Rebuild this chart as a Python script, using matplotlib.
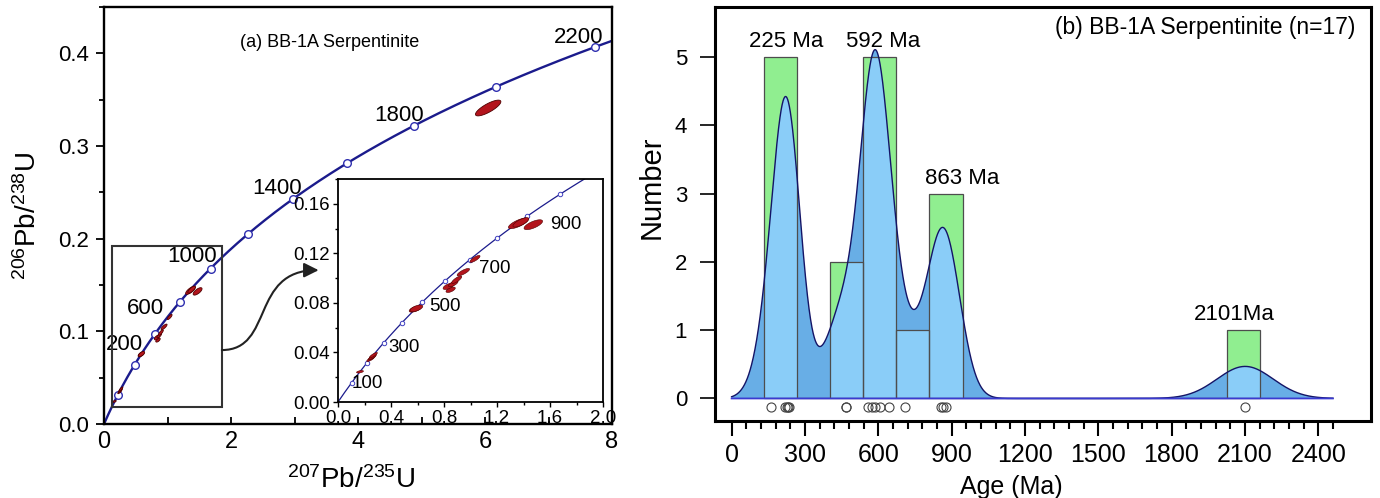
import numpy as np
import matplotlib
matplotlib.use("Agg")
import matplotlib.pyplot as plt
from matplotlib.patches import Polygon, Rectangle, FancyArrowPatch
from matplotlib.path import Path
from matplotlib.ticker import MultipleLocator, FixedLocator, FormatStrFormatter

plt.rcParams['font.family'] = ['Liberation Sans', 'DejaVu Sans']
plt.rcParams['mathtext.default'] = 'regular'

# ---- concordia (a) ----
L238 = 1.55125e-4   # decay constants, 1/Ma
L235 = 9.8485e-4
main_marks = [200, 400, 600, 800, 1000, 1200, 1400, 1600, 1800, 2000, 2200]
main_labels = [200, 600, 1000, 1400, 1800, 2200]
inset_marks = [100, 200, 300, 400, 500, 600, 700, 800, 900, 1000]
inset_labels = [100, 300, 500, 700, 900]

# zircon analyses: 207Pb/235U, 206Pb/238U, error half-extents and correlation
r75 = [0.166, 0.245, 0.255, 0.262, 0.267, 0.582, 0.592, 0.850, 0.833, 0.870,
       0.896, 0.946, 1.034, 1.361, 1.474, 1.380, 6.05]
r68 = [0.0244, 0.0345, 0.0357, 0.0365, 0.0378, 0.0750, 0.0756, 0.0906, 0.0933, 0.0955,
       0.0987, 0.1048, 0.1155, 0.1442, 0.1431, 0.1450, 0.341]
err75 = [0.026, 0.028, 0.028, 0.028, 0.030, 0.045, 0.048, 0.035, 0.040, 0.036,
         0.038, 0.047, 0.038, 0.075, 0.070, 0.060, 0.20]
err68 = [0.0010, 0.0018, 0.0018, 0.0020, 0.0022, 0.0025, 0.0027, 0.0022, 0.0025, 0.0025,
         0.0030, 0.0030, 0.0028, 0.0043, 0.0040, 0.0038, 0.0085]
rho = [0.5, 0.8, 0.8, 0.8, 0.85, 0.6, 0.6, 0.6, 0.6, 0.7,
       0.8, 0.8, 0.8, 0.75, 0.7, 0.75, 0.8]

# ---- age distribution (b) ----
ages = [161, 218, 226, 231, 236, 466, 470, 559, 573, 586, 607, 642, 708, 858, 866, 877, 2101]
age_sig = [60, 55, 55, 55, 55, 78, 78, 52, 52, 52, 52, 52, 72, 66, 66, 66, 115]
bin_start = 133.5
bin_width = 135.2
peak_ages = [225, 592, 863, 2101]
peak_text = ['225 Ma', '592 Ma', '863 Ma', '2101Ma']
peak_counts = [5, 5, 3, 1]


def ratios(t):
    t = np.asarray(t, dtype=float)
    return np.expm1(L235 * t), np.expm1(L238 * t)


def draw_ellipses(ax, lw):
    t = np.linspace(0, 2 * np.pi, 120)
    for cx, cy, sx, sy, r in zip(r75, r68, err75, err68, rho):
        xs = cx + sx * np.cos(t)
        ys = cy + sy * (r * np.cos(t) + np.sqrt(1 - r**2) * np.sin(t))
        ax.fill(xs, ys, fc='#b3141c', ec='#500000', lw=lw, zorder=4)


fig = plt.figure(figsize=(13.8, 4.98), dpi=100)
ax1 = fig.add_axes([104/1380, 74/498, 508/1380, 417/498])
ax_in = fig.add_axes([338/1380, 96/498, 265/1380, 223/498])
ax2 = fig.add_axes([715/1380, 77/498, 656/1380, 414/498])

curve_c = '#1b1b8c'

# main concordia
tc = np.linspace(0, 2300, 800)
cx, cy = ratios(tc)
ax1.plot(cx, cy, color=curve_c, lw=1.7, zorder=2)
mx, my = ratios(main_marks)
ax1.plot(mx, my, 'o', ms=5.5, mfc='white', mec='#3030b0', mew=1.0, zorder=3)
draw_ellipses(ax1, 0.6)
main_off = {200: (5, 36), 600: (-7, 18), 1000: (-13, 9), 1400: (-11, 8),
            1800: (-11, 7.5), 2200: (-12, 7)}
for a in main_labels:
    px, py = ratios(a)
    ax1.annotate(str(a), (px, py), xytext=main_off[a], textcoords='offset points',
                 ha='center', va='center', fontsize=16)
ax1.text(3.55, 0.412, '(a) BB-1A Serpentinite', ha='center', va='center', fontsize=13)

ax1.add_patch(Rectangle((0.13, 0.018), 1.726, 0.1743, fill=False, ec='#333333', lw=1.5, zorder=5))
arrow_path = Path([(1.856, 0.0798), (2.68, 0.0798), (2.30, 0.166), (3.38, 0.166)],
                  [Path.MOVETO, Path.CURVE4, Path.CURVE4, Path.CURVE4])
ax1.add_patch(FancyArrowPatch(path=arrow_path, arrowstyle='-|>', mutation_scale=22,
                              color='#222222', lw=1.5, zorder=5))

ax1.set_xlim(0, 8)
ax1.set_ylim(0, 0.45)
ax1.xaxis.set_major_locator(MultipleLocator(2))
ax1.xaxis.set_minor_locator(MultipleLocator(1))
ax1.yaxis.set_major_locator(MultipleLocator(0.1))
ax1.yaxis.set_minor_locator(MultipleLocator(0.05))
ax1.yaxis.set_major_formatter(FormatStrFormatter('%.1f'))
ax1.tick_params(axis='x', which='both', direction='in', length=5, width=1.3, labelsize=17, pad=5)
ax1.tick_params(axis='y', which='major', direction='out', length=6, width=1.3, labelsize=16, pad=5)
ax1.tick_params(axis='y', which='minor', direction='out', length=3.5, width=1.3)
for s in ax1.spines.values():
    s.set_linewidth(1.7)
ax1.set_xlabel(r'$^{207}$Pb/$^{235}$U', fontsize=20)
ax1.set_ylabel(r'$^{206}$Pb/$^{238}$U', fontsize=20)
ax1.xaxis.set_label_coords(0.486, -0.1)
ax1.yaxis.set_label_coords(-0.122, 0.5)

# inset
ax_in.patch.set_facecolor('white')
ax_in.plot(cx, cy, color=curve_c, lw=0.9, zorder=2)
ix, iy = ratios(inset_marks)
ax_in.plot(ix, iy, 'o', ms=3.2, mfc='white', mec='#4040c0', mew=0.7, zorder=3)
draw_ellipses(ax_in, 0.4)
inset_off = {100: (11, -0.5), 300: (15, -3), 500: (16, -3.5), 700: (18, -6.5), 900: (28, -5.5)}
for a in inset_labels:
    px, py = ratios(a)
    ax_in.annotate(str(a), (px, py), xytext=inset_off[a], textcoords='offset points',
                   ha='center', va='center', fontsize=13.5)
ax_in.set_xlim(0, 2.0)
ax_in.set_ylim(0, 0.18)
ax_in.xaxis.set_major_locator(MultipleLocator(0.4))
ax_in.xaxis.set_minor_locator(MultipleLocator(0.2))
ax_in.yaxis.set_major_locator(MultipleLocator(0.04))
ax_in.yaxis.set_minor_locator(MultipleLocator(0.02))
ax_in.xaxis.set_major_formatter(FormatStrFormatter('%.1f'))
ax_in.yaxis.set_major_formatter(FormatStrFormatter('%.2f'))
ax_in.tick_params(which='major', direction='out', length=3.5, width=1, labelsize=13.5, pad=2)
ax_in.tick_params(which='minor', direction='out', length=2, width=1)
for s in ax_in.spines.values():
    s.set_linewidth(1.3)

# histogram + probability density
edges = bin_start + bin_width * np.arange(16)
xg = np.linspace(0, 2460, 2500)
kde = np.zeros_like(xg)
for a, s in zip(ages, age_sig):
    kde += bin_width * np.exp(-0.5 * ((xg - a) / s) ** 2) / (s * np.sqrt(2 * np.pi))

ax2.hist(ages, bins=edges, color='#90ee90', zorder=1)
kde_poly = Polygon(np.column_stack([np.r_[xg[0], xg, xg[-1]], np.r_[0, kde, 0]]),
                   closed=True, fc='#68aee6', ec='none', zorder=2)
ax2.add_patch(kde_poly)
_, _, light = ax2.hist(ages, bins=edges, color='#8acdf8', zorder=3)
for p in light:
    p.set_clip_path(kde_poly)
ax2.hist(ages, bins=edges, fc='none', ec='#4d4d4d', lw=0.9, zorder=4)
ax2.plot(xg, kde, color='#141466', lw=1.0, zorder=5)
ax2.plot(xg, np.zeros_like(xg), color='#3a3ad0', lw=1.3, zorder=5)
ax2.plot(ages, np.full(len(ages), -0.125), 'o', ms=6.5, mfc='none', mec='#444444',
         mew=0.8, zorder=5, clip_on=False)

lab_dx = [0, 5, 14, -8]
for a, txt, n, dx in zip(peak_ages, peak_text, peak_counts, lab_dx):
    ax2.annotate(txt, (a, n), xytext=(dx, 3.5), textcoords='offset points',
                 ha='center', va='bottom', fontsize=16)
ax2.text(0.976, 0.95, '(b) BB-1A Serpentinite (n=17)', transform=ax2.transAxes,
         ha='right', va='center', fontsize=16.5)

ax2.set_xlim(-68, 2616)
ax2.set_ylim(-0.33, 5.73)
ax2.xaxis.set_major_locator(FixedLocator(np.arange(0, 2401, 300)))
ax2.xaxis.set_minor_locator(FixedLocator([v for v in range(60, 2461, 60) if v % 300]))
ax2.yaxis.set_major_locator(FixedLocator(range(6)))
ax2.tick_params(axis='x', which='major', direction='out', length=11, width=1.5, labelsize=18, pad=5)
ax2.tick_params(axis='x', which='minor', direction='out', length=6, width=1.5)
ax2.tick_params(axis='y', direction='out', length=11, width=1.2, labelsize=16, pad=9)
for s in ax2.spines.values():
    s.set_linewidth(2.2)
ax2.set_xlabel('Age (Ma)', fontsize=18)
ax2.set_ylabel('Number', fontsize=21)
ax2.xaxis.set_label_coords(0.451, -0.13)
ax2.yaxis.set_label_coords(-0.075, 0.565)

fig.savefig('out.png', dpi=100)
